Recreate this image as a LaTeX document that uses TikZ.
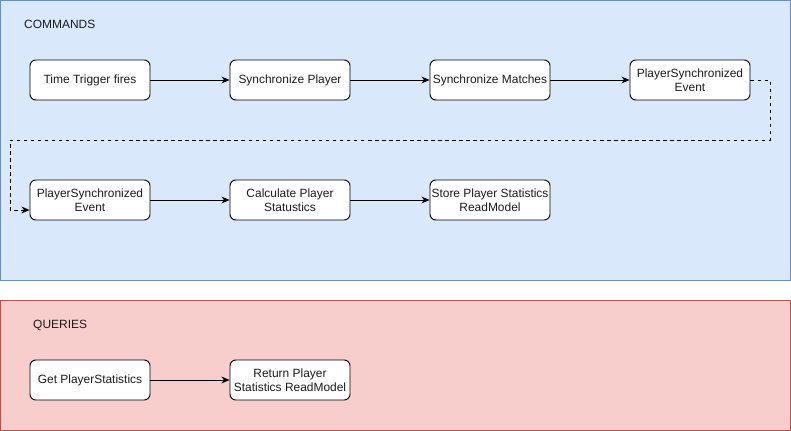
\documentclass[tikz,border=0pt]{standalone}
\usepackage{fontspec}
\setmainfont{Liberation Sans}
\usetikzlibrary{arrows.meta, positioning, calc}
\definecolor{CmdD} {HTML}{6C8EBF}
\definecolor{CmdF} {HTML}{DAE8FC}
\definecolor{QryD} {HTML}{B85450}
\definecolor{QryF} {HTML}{F8CECC}
\definecolor{TxtG} {HTML}{1A1A1A}
\tikzset{
  stepbox/.style={
    rectangle, rounded corners=5pt,
    draw=black, fill=white, text=TxtG,
    font=\fontsize{10.2}{11.5}\selectfont, align=center,
    inner sep=1pt, minimum width=3.6cm, minimum height=1.2cm,
    line width=0.8pt,
  },
  rgn/.style args={#1/#2}{
    draw=#1, fill=#2, line width=0.8pt,
  },
  arr/.style={
    -{Stealth[length=7pt,width=6pt]},
    line width=0.8pt, color=black,
  },
  hdr/.style={
    font=\fontsize{10.2}{12}\selectfont, text=TxtG,
    anchor=west, inner sep=0pt,
  },
}
\begin{document}
\begin{tikzpicture}[x=0.03cm,y=-0.03cm]
    \useasboundingbox (0,0) rectangle (791,431);
    % regions
    \draw[rgn=CmdD/CmdF] (0.5,0.5) rectangle (790.5,280);
    \draw[rgn=QryD/QryF] (0.5,300) rectangle (790.5,430.5);
    \node[hdr] (cmdl) at (24,24)  {COMMANDS};
    \node[hdr] (qryl) at (33,325) {QUERIES};

    % commands, first row
    \node[stepbox] (trig)  at (90,80)  {Time Trigger fires};
    \node[stepbox] (syncp) at (290,80) {Synchronize Player};
    \node[stepbox] (syncm) at (490,80) {Synchronize Matches};
    \node[stepbox] (pse)   at (690,80) {PlayerSynchronized\\Event};
    % commands, second row
    \node[stepbox] (pseb)  at (90,200)  {PlayerSynchronized\\Event};
    \node[stepbox] (calc)  at (290,200) {Calculate Player\\Statustics};
    \node[stepbox] (store) at (490,200) {Store Player Statistics\\ReadModel};
    % queries
    \node[stepbox] (getq)  at (90,380)  {Get PlayerStatistics};
    \node[stepbox] (ret)   at (290,380) {Return Player\\Statistics ReadModel};

    \draw[arr] (trig)--(syncp);
    \draw[arr] (syncp)--(syncm);
    \draw[arr] (syncm)--(pse);
    \coordinate (ra) at (770,140);
    \coordinate (lb) at (10,140);
    \coordinate (dn) at (10,210);
    \draw[arr,dashed] (pse.east) -| (ra) -- (lb) -- (dn) -- (pseb.west |- dn);
    \draw[arr] (pseb)--(calc);
    \draw[arr] (calc)--(store);
    \draw[arr] (getq)--(ret);
  \end{tikzpicture}
\end{document}
